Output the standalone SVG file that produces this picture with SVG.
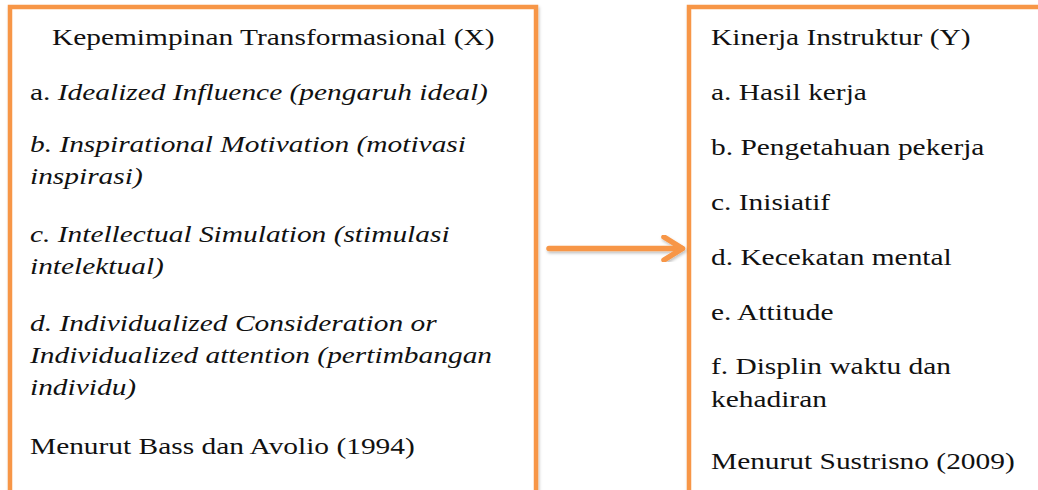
<svg xmlns="http://www.w3.org/2000/svg" width="1038" height="490" viewBox="0 0 1038 490">
<defs>
<filter id="sh" x="-5%" y="-5%" width="110%" height="110%">
<feDropShadow dx="1" dy="2" stdDeviation="1.5" flood-color="#000" flood-opacity="0.25"/>
</filter>
<style>
.box{fill:#fff;stroke:#F79646;stroke-width:4.5}
.t{font-family:"Liberation Serif","Times New Roman",serif;font-size:24px;fill:#111}
.i{font-style:italic}
.conn{fill:none;stroke:#F79646;stroke-width:5.5;stroke-linecap:round;stroke-linejoin:round}
</style>
</defs>
<rect width="1038" height="490" fill="#fff"/>
<g id="node-x">
<rect class="box" x="10" y="7" width="526" height="500" filter="url(#sh)"/>
<text class="t" transform="translate(52 45) scale(1.225 1)">Kepemimpinan Transformasional (X)</text>
<text class="t" transform="translate(30 100) scale(1.225 1)">a. <tspan class="i">Idealized Influence (pengaruh ideal)</tspan></text>
<text class="t i" transform="translate(30 152) scale(1.225 1)">b. Inspirational Motivation (motivasi</text>
<text class="t i" transform="translate(30 184) scale(1.225 1)">inspirasi)</text>
<text class="t i" transform="translate(30 242) scale(1.225 1)">c. Intellectual Simulation (stimulasi</text>
<text class="t i" transform="translate(30 274) scale(1.225 1)">intelektual)</text>
<text class="t i" transform="translate(30 330.5) scale(1.225 1)">d. Individualized Consideration or</text>
<text class="t i" transform="translate(30 362.5) scale(1.225 1)">Individualized attention (pertimbangan</text>
<text class="t i" transform="translate(30 394.5) scale(1.225 1)">individu)</text>
<text class="t" transform="translate(30 453.5) scale(1.225 1)">Menurut Bass dan Avolio (1994)</text>
</g>
<g id="node-y">
<rect class="box" x="689" y="7" width="400" height="500" filter="url(#sh)"/>
<text class="t" transform="translate(711 45) scale(1.225 1)">Kinerja Instruktur (Y)</text>
<text class="t" transform="translate(711 100) scale(1.225 1)">a. Hasil kerja</text>
<text class="t" transform="translate(711 155) scale(1.225 1)">b. Pengetahuan pekerja</text>
<text class="t" transform="translate(711 210) scale(1.225 1)">c. Inisiatif</text>
<text class="t" transform="translate(711 265) scale(1.225 1)">d. Kecekatan mental</text>
<text class="t" transform="translate(711 320) scale(1.225 1)">e. Attitude</text>
<text class="t" transform="translate(711 374) scale(1.225 1)">f. Displin waktu dan</text>
<text class="t" transform="translate(711 406.5) scale(1.225 1)">kehadiran</text>
<text class="t" transform="translate(711 468.5) scale(1.225 1)">Menurut Sustrisno (2009)</text>
</g>
<g id="connectors" filter="url(#sh)">
<path class="conn" d="M549 248.5 H682"/>
<path class="conn" d="M664 237 L682.5 248.5 L664 260"/>
</g>
</svg>
